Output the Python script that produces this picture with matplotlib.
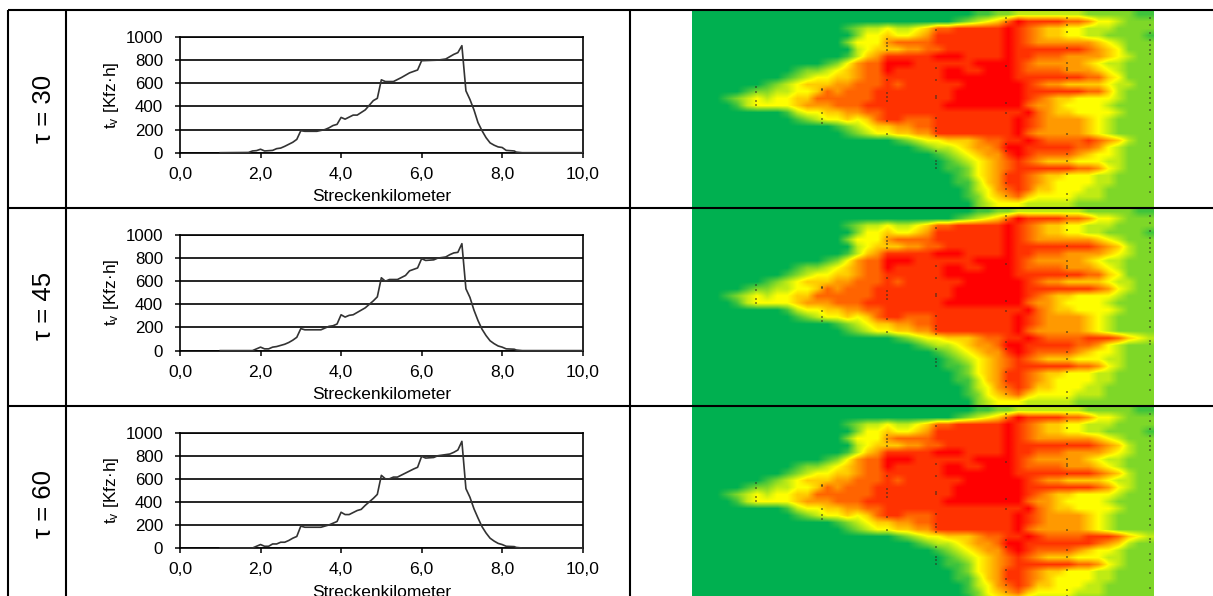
import matplotlib
matplotlib.use("Agg")
import matplotlib.pyplot as plt
import numpy as np
from matplotlib.colors import LinearSegmentedColormap

plt.rcParams['font.family'] = ['Liberation Sans', 'DejaVu Sans']
plt.rcParams['mathtext.fontset'] = 'custom'
plt.rcParams['mathtext.rm'] = 'Liberation Sans'
plt.rcParams['mathtext.default'] = 'regular'

W, H = 1213, 596

tau_labels = ["τ = 30", "τ = 45", "τ = 60"]
x_ticks = [0, 2, 4, 6, 8, 10]
x_tick_labels = ["0,0", "2,0", "4,0", "6,0", "8,0", "10,0"]
y_ticks = [0, 200, 400, 600, 800, 1000]
y_tick_labels = ["0", "200", "400", "600", "800", "1000"]

km_30 = [1,1.7,1.8,1.9,2,2.1,2.3,2.4,2.5,2.6,2.8,2.9,3,3.1,3.4,3.6,3.7,3.8,3.9,4,4.1,4.3,4.4,4.6,4.7,4.8,4.9,5,5.1,5.3,5.5,5.7,5.9,6,6.4,6.6,6.8,6.9,7,7.1,7.2,7.3,7.4,7.5,7.6,7.7,7.8,7.9,8,8.1,8.3,8.35,8.5,10]
tv_30 = [0,2,15,18,30,15,20,35,40,55,90,115,190,185,185,200,215,235,245,305,290,325,325,370,410,450,470,630,615,615,650,690,715,795,800,810,850,865,925,535,460,370,260,190,130,85,65,50,45,20,15,5,0,0]
km_45 = [1,1.8,1.9,2,2.1,2.2,2.3,2.4,2.5,2.6,2.7,2.8,2.9,3,3.1,3.5,3.6,3.7,3.8,3.9,4,4.1,4.2,4.3,4.4,4.6,4.7,4.8,4.9,5,5.1,5.2,5.4,5.6,5.7,5.9,6,6.1,6.3,6.4,6.6,6.7,6.8,6.9,7,7.1,7.2,7.3,7.4,7.5,7.6,7.7,7.8,7.9,8,8.1,8.3,8.35,8.5,10]
tv_45 = [0,0,15,30,15,15,30,35,45,55,70,90,115,190,180,180,195,210,215,230,310,290,305,310,330,370,400,430,465,630,600,615,615,650,690,715,795,780,785,800,810,830,845,850,925,535,460,350,260,185,130,85,60,40,30,15,12,5,0,0]
km_60 = [1,1.8,1.9,2,2.1,2.2,2.3,2.4,2.5,2.6,2.7,2.8,2.9,3,3.1,3.5,3.7,3.8,3.9,4,4.1,4.2,4.4,4.5,4.6,4.7,4.8,4.9,5,5.1,5.2,5.3,5.4,5.6,5.8,5.9,6,6.1,6.3,6.4,6.6,6.7,6.8,6.9,7,7.1,7.2,7.3,7.4,7.5,7.6,7.7,7.8,7.9,8,8.1,8.3,8.35,8.5,10]
tv_60 = [0,0,15,30,15,15,35,35,50,50,65,85,100,190,180,180,200,215,230,310,290,290,325,335,370,400,430,465,630,600,600,615,615,650,685,700,795,780,785,800,810,815,830,850,925,515,440,340,260,185,130,85,60,40,30,15,12,5,0,0]

# first non-green column of each row
heat_start = [28,26,15,16,15,16,15,13,10,9,7,5,3,4,9,10,14,15,20,22,24,25,25,26,26,27,27,28]
# congestion level of each row from that column on
heat_levels_30 = [
 "112233333332222211",
 "12345798888776443222",
 "1233433457788888987655443332222",
 "244544568888888987655443322221",
 "2444677778888888987666666543222",
 "345556677888888988888887654222",
 "13568888899988889887776666543222",
 "124677999888888999987666665433222",
 "122345677988888998899987777666543222",
 "1234455677888888999999988888887754222",
 "123455566777878888889999998766555543322",
 "12233445767778888888899999998888887753222",
 "1234344557777778888888899999998765544443222",
 "134444566677788888888999999997665444432222",
 "1344556677888888888888889765544443222",
 "123445457887778888888898766665432222",
 "12345566778888888898766665432222",
 "1234455668888888897666665432222",
 "12344555677889877778765322",
 "123345667998888877643222",
 "1234566898777765443222",
 "123456787655544433222",
 "112456788888877643222",
 "12456887655444332222",
 "11356887654444332222",
 "1346787554443322222",
 "1245675444433322222",
 "234443333322222222",
]
# tau 45 and 60: same picture, band ends run slightly further right
heat_levels_45 = list(heat_levels_30)
heat_levels_45[5]  = "345556677888888988888888765322"
heat_levels_45[11] = "12233445767778888888899999998888888764322"
heat_levels_45[18] = "12344555677889877778887543"
heat_levels_60 = list(heat_levels_45)
heat_levels_60[9]  = "1234455677888888999999988888888765322"
heat_levels_60[19] = "123345667998888888765322"
N_COLS = 46

detector_col = [198, 396, 590, 738, 948, 1130, 1380]
detector_rows = [
 [228,242,270,283],
 [235,238,305,325,335],
 [85,95,105,118,208,245,258,270,330,368],
 [58,172,208,255,262,320,350,360,375,420,450,460,472],
 [20,32,165,275,305,400,420,488,515,535,555],
 [22,42,62,110,155,170,178,200,370,428,450,490,550,568],
 [20,42,66,88,103,118,130,160,198,228,245,260,275,298,335,355,395,405,440,460,498,543],
]

cmap = LinearSegmentedColormap.from_list("q", [(0, "#00B050"), (4/9, "#FFFF00"), (1, "#FF0000")])

fig = plt.figure(figsize=(W/100, H/100), dpi=100, facecolor="white")

def pxax(x0, y0, x1, y1, **kw):
    return fig.add_axes([x0/W, 1-y1/H, (x1-x0)/W, (y1-y0)/H], **kw)

bg = fig.add_axes([0, 0, 1, 1], zorder=5)
bg.set_xlim(0, W); bg.set_ylim(H, 0); bg.axis("off"); bg.patch.set_alpha(0)
for yy in (10, 208, 406):
    bg.plot([8, W], [yy, yy], color="black", lw=1.5, solid_capstyle="butt")
for xx in (8, 66, 630):
    bg.plot([xx, xx], [9.5, H], color="black", lw=1.5, solid_capstyle="butt")

chart_y = [(37, 152.7), (235, 350.6), (432.7, 548)]
heat_y = [(11, 207), (209, 405), (407, 603)]
curves = [(km_30, tv_30), (km_45, tv_45), (km_60, tv_60)]
tau_y = [109, 306, 504]
heats = [heat_levels_30, heat_levels_45, heat_levels_60]

def to_array(levels):
    rows = []
    for s, lv in zip(heat_start, levels):
        r = [0]*s + [int(c) for c in lv]
        r = (r + [r[-1]]*N_COLS)[:N_COLS]
        rows.append(r)
    return np.array(rows, dtype=float)

for i in range(3):
    y0, y1 = chart_y[i]
    ax = pxax(180, y0, 582.7, y1)
    ax.set_xlim(0, 10); ax.set_ylim(0, 1000)
    ax.set_xticks(x_ticks, x_tick_labels)
    ax.set_yticks(y_ticks, y_tick_labels)
    ax.tick_params(axis="x", length=3.6, width=1.1, labelsize=12.6, pad=6.5, color="black")
    ax.tick_params(axis="y", length=3.6, width=1.1, labelsize=12.2, pad=8.5, color="black")
    ax.grid(axis="y", color="black", lw=1.2)
    ax.set_axisbelow(True)
    for s in ax.spines.values():
        s.set_linewidth(1.2)
    ax.plot(curves[i][0], curves[i][1], color="#333333", lw=1.2, clip_on=False, zorder=3)
    ax.set_xlabel("Streckenkilometer", fontsize=12.5, labelpad=5.5)
    ax.set_ylabel("t$_{v}$ [Kfz·h]", fontsize=12.5, va="center")
    ax.yaxis.set_label_coords(-0.171, 0.5)

    hx = pxax(692, heat_y[i][0], 1154, heat_y[i][1])
    hx.imshow(to_array(heats[i]), cmap=cmap, vmin=0, vmax=9, aspect="auto",
              interpolation="bilinear", extent=[6, 1392, 588, 0])
    hx.set_xlim(6, 1392); hx.set_ylim(588, 0); hx.axis("off")
    for c, rows in zip(detector_col, detector_rows):
        hx.scatter([c]*len(rows), rows, s=4, color="#303020", alpha=0.5, linewidths=0, marker="s")

    bg.text(44, tau_y[i], tau_labels[i], rotation=90, ha="center", va="center", fontsize=18.5)

fig.savefig("out.png", dpi=100)
